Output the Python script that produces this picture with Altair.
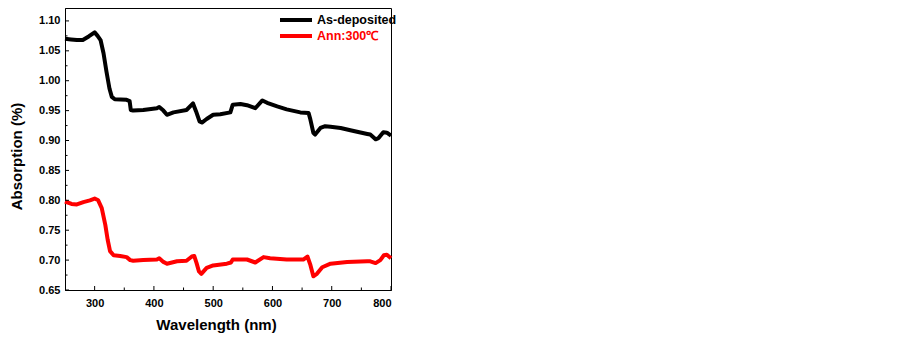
import altair as alt
import pandas as pd

# ---- data ----
wl_dep = [250, 260, 270, 280, 290, 300, 305, 310, 315, 320, 325, 329, 334, 354, 359, 361, 365, 382,
          405, 409, 416, 422, 433, 455, 466, 471, 477, 481, 489, 500, 512, 529, 533, 546, 557, 571,
          583, 591, 608, 624, 647, 661, 664, 669, 672, 681, 689, 698, 715, 737, 760, 765, 774, 779,
          787, 793, 800]
abs_dep = [1.070, 1.069, 1.068, 1.068, 1.074, 1.081, 1.075, 1.068, 1.046, 1.015, 0.987, 0.973, 0.969,
           0.968, 0.966, 0.951, 0.950, 0.951, 0.954, 0.956, 0.950, 0.943, 0.947, 0.951, 0.962, 0.949,
           0.932, 0.930, 0.936, 0.943, 0.944, 0.947, 0.960, 0.961, 0.959, 0.954, 0.967, 0.963, 0.957,
           0.952, 0.947, 0.946, 0.935, 0.913, 0.910, 0.921, 0.924, 0.923, 0.921, 0.916, 0.911, 0.910,
           0.902, 0.904, 0.914, 0.913, 0.908]

wl_ann = [250, 261, 270, 281, 292, 300, 306, 312, 318, 322, 326, 332, 343, 354, 360, 365, 382, 405,
          409, 416, 422, 439, 455, 464, 468, 472, 476, 480, 489, 500, 523, 530, 533, 557, 571, 585,
          596, 624, 652, 659, 664, 669, 675, 684, 698, 726, 760, 765, 774, 782, 788, 793, 800]
abs_ann = [0.798, 0.794, 0.793, 0.797, 0.800, 0.803, 0.800, 0.787, 0.759, 0.734, 0.715, 0.708, 0.707,
           0.705, 0.700, 0.699, 0.700, 0.701, 0.703, 0.697, 0.694, 0.698, 0.699, 0.706, 0.707, 0.695,
           0.681, 0.677, 0.687, 0.691, 0.694, 0.696, 0.701, 0.701, 0.696, 0.705, 0.703, 0.701, 0.701,
           0.706, 0.692, 0.673, 0.677, 0.688, 0.694, 0.697, 0.698, 0.698, 0.695, 0.700, 0.708, 0.709,
           0.703]

series_names = ["As-deposited", "Ann:300℃"]
series_colors = ["#000000", "#ff0000"]

x_ticks = [300, 400, 500, 600, 700, 800]
x_minor = [350, 450, 550, 650, 750]
y_ticks = [0.65, 0.70, 0.75, 0.80, 0.85, 0.90, 0.95, 1.00, 1.05, 1.10]
y_minor = [0.675, 0.725, 0.775, 0.825, 0.875, 0.925, 0.975, 1.025, 1.075]

df = pd.concat([
    pd.DataFrame({"wl": wl_dep, "a": abs_dep, "s": series_names[0]}),
    pd.DataFrame({"wl": wl_ann, "a": abs_ann, "s": series_names[1]}),
])

W, H = 326, 282
FONT = "Liberation Sans"
xs = alt.Scale(domain=[250, 800], nice=False, zero=False)
ys = alt.Scale(domain=[0.65, 1.1216], nice=False, zero=False)
xax = alt.Axis(title="Wavelength (nm)", values=x_ticks, ticks=False, labelPadding=7,
               titlePadding=9, format="d", titleX=151, titleAnchor="middle", titleAlign="center")
yax = alt.Axis(title="Absorption (%)", values=y_ticks, ticks=False, format=".2f",
               labelPadding=5, titlePadding=14, titleY=148, titleAlign="center")

lines = alt.Chart(df).mark_line(strokeWidth=4, strokeJoin="round").encode(
    x=alt.X("wl:Q", scale=xs, axis=xax),
    y=alt.Y("a:Q", scale=ys, axis=yax),
    color=alt.Color("s:N", scale=alt.Scale(domain=series_names, range=series_colors),
                    legend=alt.Legend(title=None, orient="none", legendX=223, legendY=4,
                                      symbolType="M-2.667,0H2.667", symbolSize=144, symbolStrokeWidth=4,
                                      labelFont=FONT, labelFontSize=12.5, labelFontWeight="bold",
                                      labelOffset=13, rowPadding=0,
                                      labelColor=alt.ExprRef(expr="datum.label == 'Ann:300℃' ? '#ff0000' : '#000000'"))),
)

xt = alt.Chart(pd.DataFrame({"wl": x_ticks})).mark_rule(color="black", strokeWidth=1).encode(
    x=alt.X("wl:Q", scale=xs, axis=xax), y=alt.value(H), y2=alt.value(H - 4))
xm = alt.Chart(pd.DataFrame({"wl": x_minor})).mark_rule(color="black", strokeWidth=1).encode(
    x=alt.X("wl:Q", scale=xs, axis=xax), y=alt.value(H), y2=alt.value(H - 2.5))
yt = alt.Chart(pd.DataFrame({"a": y_ticks})).mark_rule(color="black", strokeWidth=1).encode(
    y=alt.Y("a:Q", scale=ys, axis=yax), x=alt.value(0), x2=alt.value(4))
ym = alt.Chart(pd.DataFrame({"a": y_minor})).mark_rule(color="black", strokeWidth=1).encode(
    y=alt.Y("a:Q", scale=ys, axis=yax), x=alt.value(0), x2=alt.value(2.5))

chart = alt.layer(lines, xt, xm, yt, ym).properties(
    width=W, height=H, autosize=alt.AutoSizeParams(type="none"),
    padding={"left": 57, "top": 0, "right": 12, "bottom": 45},
    background="white",
).configure_view(stroke="black", strokeWidth=1).configure_axis(
    grid=False, domainColor="black", domainWidth=1,
    labelFont=FONT, labelFontSize=11, labelFontWeight="bold", labelColor="black",
    titleFont=FONT, titleFontSize=15, titleFontWeight="bold", titleColor="black",
)

chart.save("out.html", embed_options={"renderer": "svg", "actions": False})
